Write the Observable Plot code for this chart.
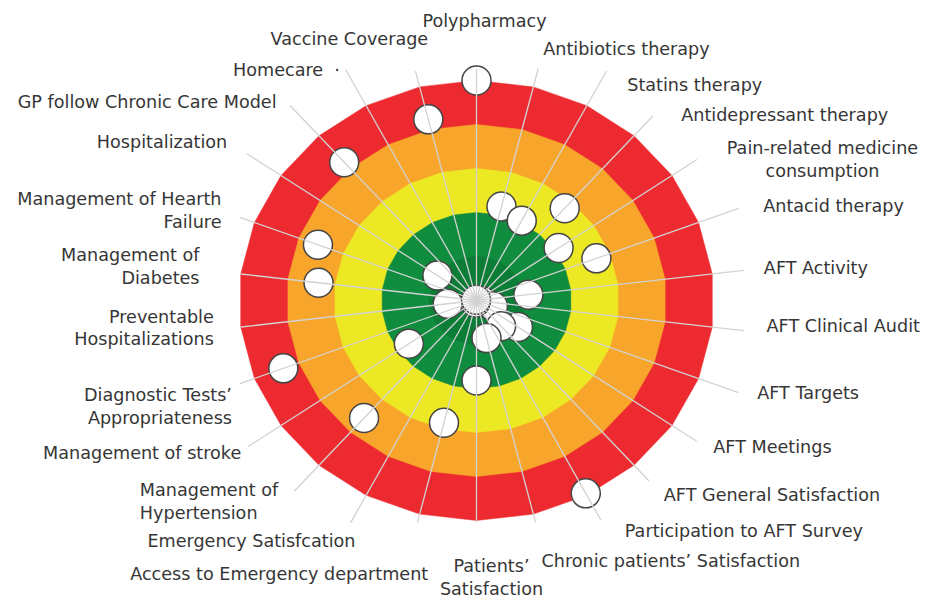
<!DOCTYPE html>
<html>
<head>
<meta charset="utf-8">
<script src="https://cdn.jsdelivr.net/npm/d3@7"></script>
<script src="https://cdn.jsdelivr.net/npm/@observablehq/plot@0.6"></script>
<style>
  html, body { margin: 0; padding: 0; background: #fff; }
  #chart svg { display: block; }
</style>
</head>
<body>
<div id="chart"></div>
<script>
// ---- data, clockwise from the top ----
const categories = [
  "Polypharmacy", "Antibiotics therapy", "Statins therapy", "Antidepressant therapy",
  "Pain-related medicine\nconsumption", "Antacid therapy", "AFT Activity", "AFT Clinical Audit",
  "AFT Targets", "AFT Meetings", "AFT General Satisfaction", "Participation to AFT Survey",
  "Chronic patients’ Satisfaction", "Patients’\nSatisfaction", "Access to Emergency department",
  "Emergency Satisfcation", "Management of\nHypertension", "Management of stroke",
  "Diagnostic Tests’\nAppropriateness", "Preventable\nHospitalizations", "Management of\nDiabetes",
  "Management of Hearth\nFailure", "Hospitalization", "GP follow Chronic Care Model",
  "Homecare\u00a0\u00a0·", "Vaccine Coverage"
];
// score of each indicator on the 0–5 target scale
const values = [
  5.0, 2.2, 2.05, 2.8, 2.1, 2.7, 1.1, 0.12,
  0.37, 1.06, 0.78, 4.95, 0.88, 1.82, 2.86, 0.05,
  3.57, 1.73, 4.35, 0.61, 3.35, 3.57, 1.0, 4.2,
  0.02, 4.24
];
// target bands (outer radius on the same scale)
const bandLimits = [5, 4, 3, 2, 1];
const bandNames = ["red", "orange", "yellow", "green", "dark green"];

// ---- layout (leader lines and label placement) ----
const spokeLength = [
  5.27, 5.43, 5.89, 5.6, 5.64, 5.9, 5.67, 5.67,
  5.9, 5.63, 5.48, 5.64, 5.19, 5.05, 5.2, 5.7,
  5.79, 5.85, 5.33, 5.0, 5.0, 5.33, 5.88, 5.92,
  5.93, 5.37
];
const labelAnchor = [
  "middle", "start", "start", "start", "middle", "start", "start", "start",
  "start", "start", "start", "start", "start", "middle", "end", "end",
  "start", "end", "end", "end", "end", "end", "end", "end",
  "end", "end"
];
// pixel nudge of each label from the end of its leader line
const labelNudge = [
  [8, -48.5], [5, -20.7], [20.7, 12.4], [28.3, -2.7], [125.5, -1.2], [24.7, -4.1], [20, -3.7], [22.7, -5.4],
  [18.7, -0.7], [16.7, 4.6], [14.7, 12.4], [23.8, 9.1], [6, 37.9], [15, 53.8], [10.8, 49.8], [4.8, 17.5],
  [-154.3, 8.7], [-6.6, 5.1], [-7.8, 21.2], [-26.9, -0.4], [-41.2, -8.4], [-18.3, -8], [-19.4, -12.7], [-13.5, -4.4],
  [-5.7, -1.1], [12.7, -33.3]
];

// ---- styles ----
const bandColors = ["#ed2a2f", "#f7a62b", "#ede824", "#108c3e", "#0c7d37"];
const W = 927, H = 599;
const cx = 476, cy = 300;        // pixel position of the centre
const pxX = 47.5, pxY = 44;      // pixels per scale unit (picture is slightly wider than tall)

const n = categories.length;
const angle = i => (i / n) * 2 * Math.PI;   // clockwise from the top
const px = (r, i) => r * Math.sin(angle(i));
const py = (r, i) => r * Math.cos(angle(i));

const rows = categories.map((name, i) => ({
  i, name, value: values[i], len: spokeLength[i],
  anchor: labelAnchor[i],
  lx: px(spokeLength[i], i) + labelNudge[i][0] / pxX,
  ly: py(spokeLength[i], i) - labelNudge[i][1] / pxY
}));

const bandMarks = bandLimits.map((r, b) => {
  const pts = categories.map((_, i) => ({x: px(r, i), y: py(r, i)}));
  return Plot.line(pts, {x: "x", y: "y", curve: "linear-closed", fill: bandColors[b], stroke: bandColors[b], strokeWidth: 0.5});
});

const textOpts = a => ({
  x: "lx", y: "ly", text: "name", textAnchor: a,
  fontSize: 17.6, fontFamily: "DejaVu Sans, Verdana, sans-serif",
  fill: "#363636", lineHeight: 1.3
});

const chart = Plot.plot({
  width: W, height: H, margin: 0,
  style: {background: "#fff", overflow: "visible"},
  x: {domain: [-cx / pxX, (W - cx) / pxX], range: [0, W], axis: null},
  y: {domain: [-(H - cy) / pxY, cy / pxY], range: [H, 0], axis: null},
  marks: [
    ...bandMarks,
    Plot.dot(rows, {
      x: d => px(d.value, d.i), y: d => py(d.value, d.i),
      r: 14.5, fill: "#fff", stroke: "#454545", strokeWidth: 1.5
    }),
    Plot.link(rows, {
      x1: () => 0, y1: () => 0,
      x2: d => px(d.len, d.i), y2: d => py(d.len, d.i),
      stroke: "#d2d2d2", strokeWidth: 1.3
    }),
    Plot.text(rows.filter(d => d.anchor === "start"), textOpts("start")),
    Plot.text(rows.filter(d => d.anchor === "end"), textOpts("end")),
    Plot.text(rows.filter(d => d.anchor === "middle"), textOpts("middle"))
  ]
});
document.getElementById("chart").appendChild(chart);
</script>
</body>
</html>
